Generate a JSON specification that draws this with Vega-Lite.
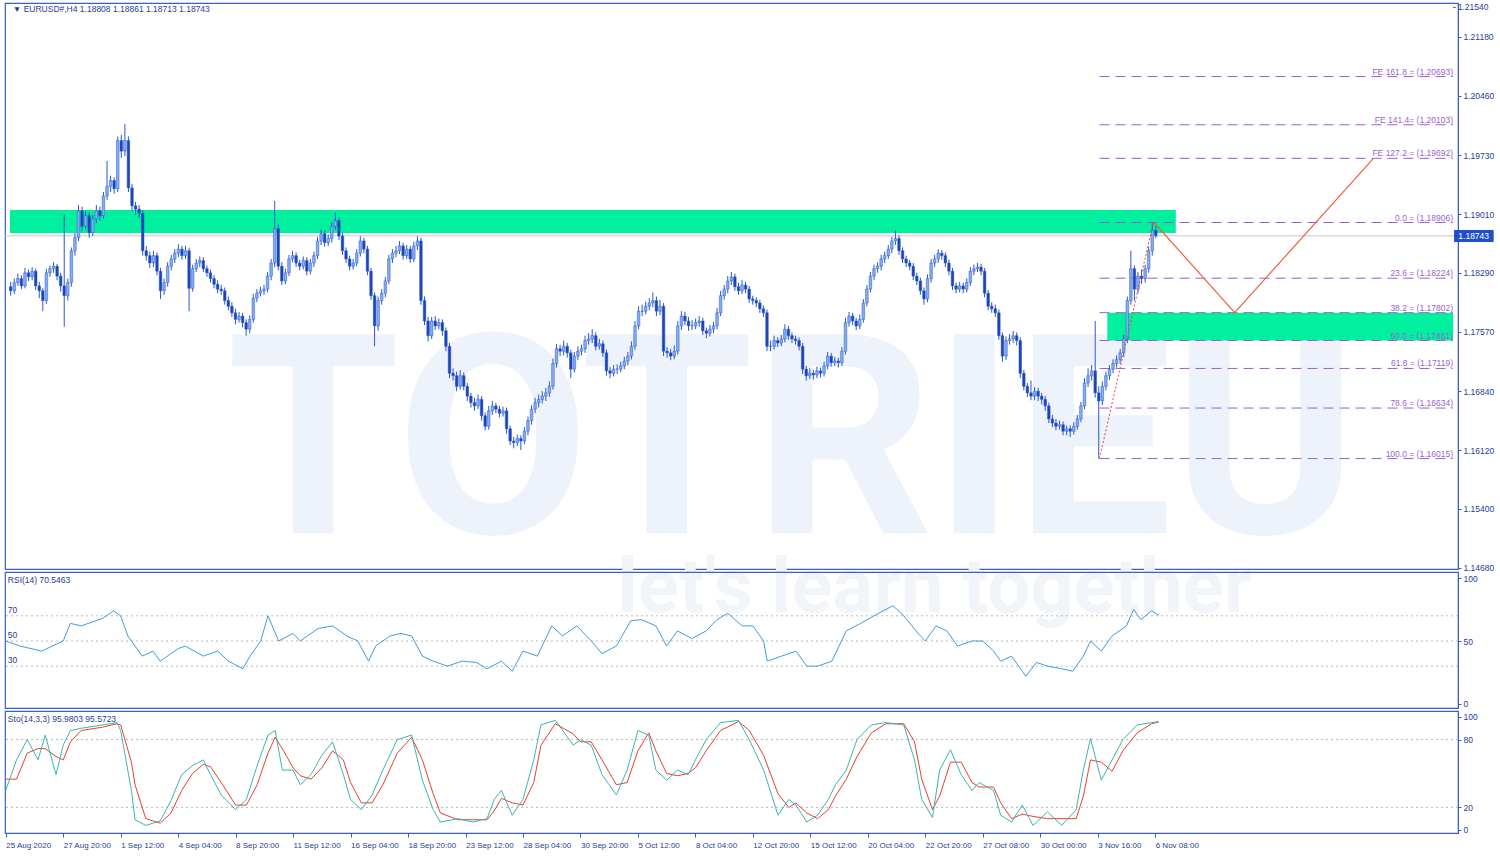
{
"$schema": "https://vega.github.io/schema/vega-lite/v6.json",
"background": "white",
"padding": {"left": 3, "top": 2, "right": 0, "bottom": 0},
"spacing": 3,
"bounds": "flush",
"config": {
  "view": {"stroke": "#3a60c8", "strokeWidth": 1.2},
  "axis": {"labelFont": "Liberation Sans", "labelFontSize": 8.5, "labelColor": "#1f3c99", "tickColor": "#3a60c8", "domainColor": "#3a60c8", "tickSize": 3, "grid": false, "title": null, "labelPadding": 2, "labelOverlap": false, "labelFlush": false},
  "text": {"font": "Liberation Sans"}
},
"datasets": {
"candles": [
{"i":0,"o":1.1812,"h":1.1818,"l":1.1801,"c":1.1807},{"i":1,"o":1.1807,"h":1.1822,"l":1.1803,"c":1.1817},{"i":2,"o":1.1817,"h":1.1828,"l":1.1813,"c":1.1822},{"i":3,"o":1.1822,"h":1.1826,"l":1.1809,"c":1.1813},{"i":4,"o":1.1813,"h":1.1835,"l":1.181,"c":1.1829},{"i":5,"o":1.1829,"h":1.1833,"l":1.1819,"c":1.1824},{"i":6,"o":1.1824,"h":1.1836,"l":1.182,"c":1.1831},{"i":7,"o":1.1831,"h":1.1834,"l":1.1808,"c":1.1813},{"i":8,"o":1.1813,"h":1.1818,"l":1.1798,"c":1.1807},{"i":9,"o":1.1807,"h":1.181,"l":1.1782,"c":1.1795},
{"i":10,"o":1.1795,"h":1.1834,"l":1.1791,"c":1.1829},{"i":11,"o":1.1829,"h":1.1838,"l":1.1824,"c":1.1834},{"i":12,"o":1.1834,"h":1.1842,"l":1.1829,"c":1.1837},{"i":13,"o":1.1837,"h":1.184,"l":1.182,"c":1.1825},{"i":14,"o":1.1825,"h":1.1829,"l":1.1806,"c":1.1813},{"i":15,"o":1.1813,"h":1.19,"l":1.1763,"c":1.1801},{"i":16,"o":1.1801,"h":1.1822,"l":1.1795,"c":1.1817},{"i":17,"o":1.1817,"h":1.186,"l":1.1812,"c":1.1856},{"i":18,"o":1.1856,"h":1.1878,"l":1.185,"c":1.1872},{"i":19,"o":1.1872,"h":1.1912,"l":1.1868,"c":1.1905},
{"i":20,"o":1.1905,"h":1.191,"l":1.188,"c":1.1886},{"i":21,"o":1.1886,"h":1.1905,"l":1.1882,"c":1.1899},{"i":22,"o":1.1899,"h":1.1903,"l":1.1872,"c":1.1878},{"i":23,"o":1.1878,"h":1.19,"l":1.1874,"c":1.1895},{"i":24,"o":1.1895,"h":1.1912,"l":1.189,"c":1.1905},{"i":25,"o":1.1905,"h":1.191,"l":1.1893,"c":1.1899},{"i":26,"o":1.1899,"h":1.1928,"l":1.1895,"c":1.1923},{"i":27,"o":1.1923,"h":1.1966,"l":1.1918,"c":1.1935},{"i":28,"o":1.1935,"h":1.1948,"l":1.1928,"c":1.1942},{"i":29,"o":1.1942,"h":1.1946,"l":1.1926,"c":1.1932},
{"i":30,"o":1.1932,"h":1.1996,"l":1.1928,"c":1.1991},{"i":31,"o":1.1991,"h":1.1998,"l":1.197,"c":1.1978},{"i":32,"o":1.1978,"h":1.2011,"l":1.1972,"c":1.1991},{"i":33,"o":1.1991,"h":1.1996,"l":1.1928,"c":1.1933},{"i":34,"o":1.1933,"h":1.1938,"l":1.1905,"c":1.1911},{"i":35,"o":1.1911,"h":1.1916,"l":1.19,"c":1.1907},{"i":36,"o":1.1907,"h":1.1912,"l":1.1896,"c":1.1902},{"i":37,"o":1.1902,"h":1.1906,"l":1.185,"c":1.1856},{"i":38,"o":1.1856,"h":1.1862,"l":1.1844,"c":1.185},{"i":39,"o":1.185,"h":1.1855,"l":1.1835,"c":1.1841},
{"i":40,"o":1.1841,"h":1.1856,"l":1.1836,"c":1.185},{"i":41,"o":1.185,"h":1.1854,"l":1.1826,"c":1.1831},{"i":42,"o":1.1831,"h":1.1835,"l":1.1797,"c":1.1807},{"i":43,"o":1.1807,"h":1.1822,"l":1.1802,"c":1.1817},{"i":44,"o":1.1817,"h":1.1842,"l":1.1812,"c":1.1837},{"i":45,"o":1.1837,"h":1.1851,"l":1.1832,"c":1.1846},{"i":46,"o":1.1846,"h":1.1858,"l":1.1841,"c":1.1853},{"i":47,"o":1.1853,"h":1.1864,"l":1.1848,"c":1.1858},{"i":48,"o":1.1858,"h":1.1862,"l":1.1845,"c":1.185},{"i":49,"o":1.185,"h":1.1862,"l":1.1846,"c":1.1856},
{"i":50,"o":1.1856,"h":1.186,"l":1.1782,"c":1.181},{"i":51,"o":1.181,"h":1.1839,"l":1.1806,"c":1.1834},{"i":52,"o":1.1834,"h":1.1846,"l":1.183,"c":1.1841},{"i":53,"o":1.1841,"h":1.1849,"l":1.1836,"c":1.1844},{"i":54,"o":1.1844,"h":1.1848,"l":1.183,"c":1.1834},{"i":55,"o":1.1834,"h":1.1838,"l":1.1824,"c":1.1829},{"i":56,"o":1.1829,"h":1.1833,"l":1.1817,"c":1.1822},{"i":57,"o":1.1822,"h":1.1826,"l":1.181,"c":1.1815},{"i":58,"o":1.1815,"h":1.182,"l":1.1804,"c":1.1809},{"i":59,"o":1.1809,"h":1.1814,"l":1.1802,"c":1.1807},
{"i":60,"o":1.1807,"h":1.1811,"l":1.179,"c":1.1795},{"i":61,"o":1.1795,"h":1.18,"l":1.1783,"c":1.1788},{"i":62,"o":1.1788,"h":1.1793,"l":1.1775,"c":1.178},{"i":63,"o":1.178,"h":1.1785,"l":1.1766,"c":1.1772},{"i":64,"o":1.1772,"h":1.1781,"l":1.1768,"c":1.1776},{"i":65,"o":1.1776,"h":1.178,"l":1.1762,"c":1.1768},{"i":66,"o":1.1768,"h":1.1772,"l":1.1752,"c":1.176},{"i":67,"o":1.176,"h":1.1777,"l":1.1755,"c":1.1772},{"i":68,"o":1.1772,"h":1.1803,"l":1.1768,"c":1.1798},{"i":69,"o":1.1798,"h":1.1809,"l":1.1793,"c":1.1804},
{"i":70,"o":1.1804,"h":1.1812,"l":1.18,"c":1.1807},{"i":71,"o":1.1807,"h":1.1814,"l":1.1802,"c":1.1809},{"i":72,"o":1.1809,"h":1.183,"l":1.1805,"c":1.1825},{"i":73,"o":1.1825,"h":1.1846,"l":1.182,"c":1.1841},{"i":74,"o":1.1841,"h":1.1917,"l":1.1836,"c":1.1883},{"i":75,"o":1.1883,"h":1.1888,"l":1.1832,"c":1.1837},{"i":76,"o":1.1837,"h":1.1842,"l":1.1814,"c":1.1819},{"i":77,"o":1.1819,"h":1.1834,"l":1.1815,"c":1.1829},{"i":78,"o":1.1829,"h":1.1851,"l":1.1825,"c":1.1846},{"i":79,"o":1.1846,"h":1.1856,"l":1.1842,"c":1.185},
{"i":80,"o":1.185,"h":1.1854,"l":1.1836,"c":1.1841},{"i":81,"o":1.1841,"h":1.1845,"l":1.1832,"c":1.1837},{"i":82,"o":1.1837,"h":1.1849,"l":1.1833,"c":1.1844},{"i":83,"o":1.1844,"h":1.1848,"l":1.1826,"c":1.1831},{"i":84,"o":1.1831,"h":1.1846,"l":1.1827,"c":1.1841},{"i":85,"o":1.1841,"h":1.1855,"l":1.1836,"c":1.185},{"i":86,"o":1.185,"h":1.1873,"l":1.1846,"c":1.1868},{"i":87,"o":1.1868,"h":1.1882,"l":1.1863,"c":1.1877},{"i":88,"o":1.1877,"h":1.1881,"l":1.1861,"c":1.1866},{"i":89,"o":1.1866,"h":1.1876,"l":1.1862,"c":1.1871},
{"i":90,"o":1.1871,"h":1.1891,"l":1.1866,"c":1.1886},{"i":91,"o":1.1886,"h":1.1903,"l":1.1882,"c":1.1893},{"i":92,"o":1.1893,"h":1.1897,"l":1.1869,"c":1.1874},{"i":93,"o":1.1874,"h":1.1878,"l":1.1851,"c":1.1856},{"i":94,"o":1.1856,"h":1.186,"l":1.1841,"c":1.1846},{"i":95,"o":1.1846,"h":1.185,"l":1.1832,"c":1.1837},{"i":96,"o":1.1837,"h":1.1846,"l":1.1833,"c":1.1841},{"i":97,"o":1.1841,"h":1.1858,"l":1.1837,"c":1.1853},{"i":98,"o":1.1853,"h":1.1874,"l":1.1849,"c":1.1868},{"i":99,"o":1.1868,"h":1.1872,"l":1.1853,"c":1.1858},
{"i":100,"o":1.1858,"h":1.1862,"l":1.1826,"c":1.1831},{"i":101,"o":1.1831,"h":1.1835,"l":1.1796,"c":1.1801},{"i":102,"o":1.1801,"h":1.1805,"l":1.1739,"c":1.1764},{"i":103,"o":1.1764,"h":1.18,"l":1.1758,"c":1.1795},{"i":104,"o":1.1795,"h":1.1809,"l":1.179,"c":1.1804},{"i":105,"o":1.1804,"h":1.1824,"l":1.1799,"c":1.1819},{"i":106,"o":1.1819,"h":1.1851,"l":1.1815,"c":1.1846},{"i":107,"o":1.1846,"h":1.1858,"l":1.1841,"c":1.1853},{"i":108,"o":1.1853,"h":1.1862,"l":1.1848,"c":1.1856},{"i":109,"o":1.1856,"h":1.1868,"l":1.1852,"c":1.1862},
{"i":110,"o":1.1862,"h":1.1866,"l":1.1845,"c":1.185},{"i":111,"o":1.185,"h":1.1863,"l":1.1846,"c":1.1858},{"i":112,"o":1.1858,"h":1.1862,"l":1.1841,"c":1.1846},{"i":113,"o":1.1846,"h":1.1867,"l":1.1842,"c":1.1862},{"i":114,"o":1.1862,"h":1.1874,"l":1.1857,"c":1.1868},{"i":115,"o":1.1868,"h":1.1872,"l":1.179,"c":1.1795},{"i":116,"o":1.1795,"h":1.18,"l":1.1765,"c":1.177},{"i":117,"o":1.177,"h":1.1775,"l":1.1745,"c":1.1752},{"i":118,"o":1.1752,"h":1.1775,"l":1.1748,"c":1.177},{"i":119,"o":1.177,"h":1.1776,"l":1.1759,"c":1.1764},
{"i":120,"o":1.1764,"h":1.1773,"l":1.176,"c":1.1768},{"i":121,"o":1.1768,"h":1.1772,"l":1.1752,"c":1.1758},{"i":122,"o":1.1758,"h":1.1762,"l":1.1733,"c":1.1739},{"i":123,"o":1.1739,"h":1.1743,"l":1.17,"c":1.1706},{"i":124,"o":1.1706,"h":1.1712,"l":1.1697,"c":1.1703},{"i":125,"o":1.1703,"h":1.1708,"l":1.1684,"c":1.169},{"i":126,"o":1.169,"h":1.171,"l":1.1686,"c":1.1703},{"i":127,"o":1.1703,"h":1.1707,"l":1.1685,"c":1.169},{"i":128,"o":1.169,"h":1.1694,"l":1.1672,"c":1.1678},{"i":129,"o":1.1678,"h":1.1682,"l":1.1664,"c":1.167},
{"i":130,"o":1.167,"h":1.1676,"l":1.166,"c":1.1666},{"i":131,"o":1.1666,"h":1.168,"l":1.1662,"c":1.1674},{"i":132,"o":1.1674,"h":1.1678,"l":1.1648,"c":1.1654},{"i":133,"o":1.1654,"h":1.1658,"l":1.1636,"c":1.1641},{"i":134,"o":1.1641,"h":1.1666,"l":1.1637,"c":1.166},{"i":135,"o":1.166,"h":1.1672,"l":1.1655,"c":1.1666},{"i":136,"o":1.1666,"h":1.167,"l":1.1657,"c":1.1662},{"i":137,"o":1.1662,"h":1.1666,"l":1.1652,"c":1.1657},{"i":138,"o":1.1657,"h":1.1665,"l":1.1653,"c":1.166},{"i":139,"o":1.166,"h":1.1664,"l":1.1632,"c":1.1638},
{"i":140,"o":1.1638,"h":1.1642,"l":1.1618,"c":1.1623},{"i":141,"o":1.1623,"h":1.1628,"l":1.1614,"c":1.1621},{"i":142,"o":1.1621,"h":1.1631,"l":1.1617,"c":1.1626},{"i":143,"o":1.1626,"h":1.163,"l":1.1612,"c":1.1623},{"i":144,"o":1.1623,"h":1.164,"l":1.1619,"c":1.1635},{"i":145,"o":1.1635,"h":1.1653,"l":1.163,"c":1.1648},{"i":146,"o":1.1648,"h":1.1667,"l":1.1643,"c":1.1662},{"i":147,"o":1.1662,"h":1.1676,"l":1.1657,"c":1.167},{"i":148,"o":1.167,"h":1.168,"l":1.1664,"c":1.1674},{"i":149,"o":1.1674,"h":1.1684,"l":1.1669,"c":1.1678},
{"i":150,"o":1.1678,"h":1.1688,"l":1.1672,"c":1.1682},{"i":151,"o":1.1682,"h":1.1696,"l":1.1677,"c":1.169},{"i":152,"o":1.169,"h":1.1724,"l":1.1686,"c":1.1718},{"i":153,"o":1.1718,"h":1.1742,"l":1.1713,"c":1.1736},{"i":154,"o":1.1736,"h":1.1741,"l":1.1727,"c":1.1733},{"i":155,"o":1.1733,"h":1.1746,"l":1.1728,"c":1.1739},{"i":156,"o":1.1739,"h":1.1743,"l":1.1725,"c":1.1731},{"i":157,"o":1.1731,"h":1.1735,"l":1.17,"c":1.1711},{"i":158,"o":1.1711,"h":1.1732,"l":1.1707,"c":1.1727},{"i":159,"o":1.1727,"h":1.1739,"l":1.1722,"c":1.1733},
{"i":160,"o":1.1733,"h":1.1741,"l":1.1728,"c":1.1736},{"i":161,"o":1.1736,"h":1.1752,"l":1.1731,"c":1.1746},{"i":162,"o":1.1746,"h":1.1755,"l":1.1741,"c":1.1748},{"i":163,"o":1.1748,"h":1.176,"l":1.1743,"c":1.1752},{"i":164,"o":1.1752,"h":1.1756,"l":1.1734,"c":1.1739},{"i":165,"o":1.1739,"h":1.1748,"l":1.1735,"c":1.1742},{"i":166,"o":1.1742,"h":1.1746,"l":1.1726,"c":1.1731},{"i":167,"o":1.1731,"h":1.1735,"l":1.1703,"c":1.1709},{"i":168,"o":1.1709,"h":1.1714,"l":1.17,"c":1.1706},{"i":169,"o":1.1706,"h":1.1716,"l":1.1702,"c":1.1711},
{"i":170,"o":1.1711,"h":1.1717,"l":1.1705,"c":1.1711},{"i":171,"o":1.1711,"h":1.172,"l":1.1707,"c":1.1715},{"i":172,"o":1.1715,"h":1.1726,"l":1.1711,"c":1.1721},{"i":173,"o":1.1721,"h":1.1732,"l":1.1716,"c":1.1727},{"i":174,"o":1.1727,"h":1.1745,"l":1.1723,"c":1.1739},{"i":175,"o":1.1739,"h":1.177,"l":1.1735,"c":1.1764},{"i":176,"o":1.1764,"h":1.1788,"l":1.176,"c":1.1782},{"i":177,"o":1.1782,"h":1.179,"l":1.1776,"c":1.1782},{"i":178,"o":1.1782,"h":1.1794,"l":1.1778,"c":1.1788},{"i":179,"o":1.1788,"h":1.1798,"l":1.1783,"c":1.1792},
{"i":180,"o":1.1792,"h":1.1805,"l":1.1787,"c":1.1795},{"i":181,"o":1.1795,"h":1.18,"l":1.1776,"c":1.1782},{"i":182,"o":1.1782,"h":1.1796,"l":1.1777,"c":1.1788},{"i":183,"o":1.1788,"h":1.1792,"l":1.1727,"c":1.1733},{"i":184,"o":1.1733,"h":1.1738,"l":1.1725,"c":1.1731},{"i":185,"o":1.1731,"h":1.1736,"l":1.1722,"c":1.1727},{"i":186,"o":1.1727,"h":1.174,"l":1.1723,"c":1.1733},{"i":187,"o":1.1733,"h":1.177,"l":1.1729,"c":1.1764},{"i":188,"o":1.1764,"h":1.1782,"l":1.1759,"c":1.1776},{"i":189,"o":1.1776,"h":1.1781,"l":1.1765,"c":1.177},
{"i":190,"o":1.177,"h":1.1775,"l":1.1758,"c":1.1764},{"i":191,"o":1.1764,"h":1.1771,"l":1.1759,"c":1.1764},{"i":192,"o":1.1764,"h":1.1773,"l":1.176,"c":1.1768},{"i":193,"o":1.1768,"h":1.1776,"l":1.1763,"c":1.177},{"i":194,"o":1.177,"h":1.1774,"l":1.1753,"c":1.1758},{"i":195,"o":1.1758,"h":1.1762,"l":1.1749,"c":1.1755},{"i":196,"o":1.1755,"h":1.1765,"l":1.1751,"c":1.176},{"i":197,"o":1.176,"h":1.1769,"l":1.1755,"c":1.1764},{"i":198,"o":1.1764,"h":1.1786,"l":1.176,"c":1.178},{"i":199,"o":1.178,"h":1.1807,"l":1.1776,"c":1.1801},
{"i":200,"o":1.1801,"h":1.1814,"l":1.1796,"c":1.1809},{"i":201,"o":1.1809,"h":1.1825,"l":1.1804,"c":1.1819},{"i":202,"o":1.1819,"h":1.183,"l":1.1814,"c":1.1824},{"i":203,"o":1.1824,"h":1.1828,"l":1.1807,"c":1.1812},{"i":204,"o":1.1812,"h":1.1817,"l":1.1802,"c":1.1807},{"i":205,"o":1.1807,"h":1.182,"l":1.1803,"c":1.1814},{"i":206,"o":1.1814,"h":1.1818,"l":1.1804,"c":1.1809},{"i":207,"o":1.1809,"h":1.1813,"l":1.1792,"c":1.1797},{"i":208,"o":1.1797,"h":1.1801,"l":1.179,"c":1.1795},{"i":209,"o":1.1795,"h":1.1799,"l":1.1787,"c":1.1792},
{"i":210,"o":1.1792,"h":1.1796,"l":1.178,"c":1.1785},{"i":211,"o":1.1785,"h":1.1789,"l":1.1775,"c":1.178},{"i":212,"o":1.178,"h":1.1784,"l":1.1733,"c":1.1739},{"i":213,"o":1.1739,"h":1.1746,"l":1.1733,"c":1.1739},{"i":214,"o":1.1739,"h":1.1752,"l":1.1735,"c":1.1746},{"i":215,"o":1.1746,"h":1.175,"l":1.1738,"c":1.1743},{"i":216,"o":1.1743,"h":1.1753,"l":1.1739,"c":1.1748},{"i":217,"o":1.1748,"h":1.1766,"l":1.1744,"c":1.176},{"i":218,"o":1.176,"h":1.1764,"l":1.1747,"c":1.1752},{"i":219,"o":1.1752,"h":1.1756,"l":1.1743,"c":1.1748},
{"i":220,"o":1.1748,"h":1.1752,"l":1.1741,"c":1.1746},{"i":221,"o":1.1746,"h":1.175,"l":1.1734,"c":1.1739},{"i":222,"o":1.1739,"h":1.1743,"l":1.1705,"c":1.1711},{"i":223,"o":1.1711,"h":1.1715,"l":1.1697,"c":1.1703},{"i":224,"o":1.1703,"h":1.1712,"l":1.1699,"c":1.1706},{"i":225,"o":1.1706,"h":1.171,"l":1.1698,"c":1.1704},{"i":226,"o":1.1704,"h":1.1714,"l":1.17,"c":1.1709},{"i":227,"o":1.1709,"h":1.1713,"l":1.1701,"c":1.1706},{"i":228,"o":1.1706,"h":1.172,"l":1.1702,"c":1.1715},{"i":229,"o":1.1715,"h":1.1732,"l":1.1711,"c":1.1727},
{"i":230,"o":1.1727,"h":1.1731,"l":1.1714,"c":1.1719},{"i":231,"o":1.1719,"h":1.1726,"l":1.1715,"c":1.1721},{"i":232,"o":1.1721,"h":1.1725,"l":1.1713,"c":1.1719},{"i":233,"o":1.1719,"h":1.1738,"l":1.1715,"c":1.1733},{"i":234,"o":1.1733,"h":1.1774,"l":1.1729,"c":1.1768},{"i":235,"o":1.1768,"h":1.1781,"l":1.1763,"c":1.1776},{"i":236,"o":1.1776,"h":1.178,"l":1.1765,"c":1.177},{"i":237,"o":1.177,"h":1.1774,"l":1.1759,"c":1.1764},{"i":238,"o":1.1764,"h":1.1778,"l":1.176,"c":1.1772},{"i":239,"o":1.1772,"h":1.1797,"l":1.1768,"c":1.1792},
{"i":240,"o":1.1792,"h":1.1814,"l":1.1788,"c":1.1809},{"i":241,"o":1.1809,"h":1.183,"l":1.1805,"c":1.1825},{"i":242,"o":1.1825,"h":1.1839,"l":1.182,"c":1.1834},{"i":243,"o":1.1834,"h":1.1842,"l":1.1829,"c":1.1837},{"i":244,"o":1.1837,"h":1.1851,"l":1.1832,"c":1.1846},{"i":245,"o":1.1846,"h":1.1855,"l":1.1841,"c":1.185},{"i":246,"o":1.185,"h":1.1863,"l":1.1846,"c":1.1858},{"i":247,"o":1.1858,"h":1.1873,"l":1.1853,"c":1.1868},{"i":248,"o":1.1868,"h":1.1881,"l":1.1863,"c":1.1871},{"i":249,"o":1.1871,"h":1.1875,"l":1.1851,"c":1.1856},
{"i":250,"o":1.1856,"h":1.186,"l":1.1841,"c":1.1846},{"i":251,"o":1.1846,"h":1.185,"l":1.1836,"c":1.1841},{"i":252,"o":1.1841,"h":1.1845,"l":1.1832,"c":1.1837},{"i":253,"o":1.1837,"h":1.1841,"l":1.182,"c":1.1825},{"i":254,"o":1.1825,"h":1.1829,"l":1.1814,"c":1.1819},{"i":255,"o":1.1819,"h":1.1823,"l":1.1802,"c":1.1807},{"i":256,"o":1.1807,"h":1.1811,"l":1.179,"c":1.1797},{"i":257,"o":1.1797,"h":1.1827,"l":1.1793,"c":1.1822},{"i":258,"o":1.1822,"h":1.1846,"l":1.1817,"c":1.1841},{"i":259,"o":1.1841,"h":1.1851,"l":1.1836,"c":1.1846},
{"i":260,"o":1.1846,"h":1.1858,"l":1.1841,"c":1.1853},{"i":261,"o":1.1853,"h":1.1857,"l":1.1845,"c":1.185},{"i":262,"o":1.185,"h":1.1854,"l":1.1836,"c":1.1841},{"i":263,"o":1.1841,"h":1.1845,"l":1.1826,"c":1.1831},{"i":264,"o":1.1831,"h":1.1835,"l":1.1808,"c":1.1813},{"i":265,"o":1.1813,"h":1.1817,"l":1.1804,"c":1.1809},{"i":266,"o":1.1809,"h":1.1818,"l":1.1805,"c":1.1813},{"i":267,"o":1.1813,"h":1.1817,"l":1.1804,"c":1.1809},{"i":268,"o":1.1809,"h":1.1822,"l":1.1805,"c":1.1817},{"i":269,"o":1.1817,"h":1.1836,"l":1.1813,"c":1.1831},
{"i":270,"o":1.1831,"h":1.1839,"l":1.1826,"c":1.1834},{"i":271,"o":1.1834,"h":1.1841,"l":1.183,"c":1.1836},{"i":272,"o":1.1836,"h":1.184,"l":1.1826,"c":1.1831},{"i":273,"o":1.1831,"h":1.1835,"l":1.1799,"c":1.1804},{"i":274,"o":1.1804,"h":1.1808,"l":1.1783,"c":1.1788},{"i":275,"o":1.1788,"h":1.1793,"l":1.178,"c":1.1785},{"i":276,"o":1.1785,"h":1.179,"l":1.1775,"c":1.178},{"i":277,"o":1.178,"h":1.1784,"l":1.1747,"c":1.1752},{"i":278,"o":1.1752,"h":1.1756,"l":1.172,"c":1.1727},{"i":279,"o":1.1727,"h":1.1751,"l":1.1722,"c":1.1746},
{"i":280,"o":1.1746,"h":1.1754,"l":1.1741,"c":1.1748},{"i":281,"o":1.1748,"h":1.1758,"l":1.1743,"c":1.1752},{"i":282,"o":1.1752,"h":1.1756,"l":1.174,"c":1.1746},{"i":283,"o":1.1746,"h":1.175,"l":1.17,"c":1.1706},{"i":284,"o":1.1706,"h":1.171,"l":1.1685,"c":1.169},{"i":285,"o":1.169,"h":1.1694,"l":1.1677,"c":1.1682},{"i":286,"o":1.1682,"h":1.1697,"l":1.1673,"c":1.1678},{"i":287,"o":1.1678,"h":1.1689,"l":1.1673,"c":1.1684},{"i":288,"o":1.1684,"h":1.1688,"l":1.1672,"c":1.1678},{"i":289,"o":1.1678,"h":1.1682,"l":1.1668,"c":1.1674},
{"i":290,"o":1.1674,"h":1.1678,"l":1.166,"c":1.1666},{"i":291,"o":1.1666,"h":1.167,"l":1.1645,"c":1.165},{"i":292,"o":1.165,"h":1.1655,"l":1.164,"c":1.1645},{"i":293,"o":1.1645,"h":1.165,"l":1.1636,"c":1.1641},{"i":294,"o":1.1641,"h":1.1648,"l":1.1637,"c":1.1643},{"i":295,"o":1.1643,"h":1.1647,"l":1.163,"c":1.1635},{"i":296,"o":1.1635,"h":1.1642,"l":1.163,"c":1.1638},{"i":297,"o":1.1638,"h":1.1642,"l":1.1628,"c":1.1635},{"i":298,"o":1.1635,"h":1.1646,"l":1.1631,"c":1.1641},{"i":299,"o":1.1641,"h":1.1655,"l":1.1637,"c":1.165},
{"i":300,"o":1.165,"h":1.1671,"l":1.1646,"c":1.1666},{"i":301,"o":1.1666,"h":1.17,"l":1.1662,"c":1.1694},{"i":302,"o":1.1694,"h":1.1712,"l":1.1689,"c":1.1703},{"i":303,"o":1.1703,"h":1.1716,"l":1.1697,"c":1.1709},{"i":304,"o":1.1709,"h":1.177,"l":1.1676,"c":1.1682},{"i":305,"o":1.1682,"h":1.169,"l":1.16015,"c":1.1672},{"i":306,"o":1.1672,"h":1.1696,"l":1.1667,"c":1.169},{"i":307,"o":1.169,"h":1.1708,"l":1.1685,"c":1.1703},{"i":308,"o":1.1703,"h":1.1716,"l":1.1698,"c":1.1711},{"i":309,"o":1.1711,"h":1.1723,"l":1.1706,"c":1.1718},
{"i":310,"o":1.1718,"h":1.1728,"l":1.1713,"c":1.1723},{"i":311,"o":1.1723,"h":1.1736,"l":1.1718,"c":1.1731},{"i":312,"o":1.1731,"h":1.1753,"l":1.1726,"c":1.1748},{"i":313,"o":1.1748,"h":1.18,"l":1.1743,"c":1.1795},{"i":314,"o":1.1795,"h":1.1856,"l":1.179,"c":1.1834},{"i":315,"o":1.1834,"h":1.1838,"l":1.1795,"c":1.1809},{"i":316,"o":1.1809,"h":1.183,"l":1.1804,"c":1.1825},{"i":317,"o":1.1825,"h":1.1833,"l":1.1815,"c":1.1822},{"i":318,"o":1.1822,"h":1.1839,"l":1.1817,"c":1.1834},{"i":319,"o":1.1834,"h":1.1861,"l":1.1829,"c":1.1856},
{"i":320,"o":1.1856,"h":1.18906,"l":1.185,"c":1.1881},{"i":321,"o":1.18808,"h":1.18861,"l":1.18713,"c":1.18743}
],
"rsi": [
{"i":0,"v":50},{"i":4,"v":46},{"i":10,"v":42},{"i":16,"v":50},{"i":18,"v":64},{"i":21,"v":62},{"i":27,"v":68},{"i":30,"v":74},{"i":32,"v":70},{"i":34,"v":54},{"i":38,"v":38},{"i":41,"v":42},{"i":43,"v":34},{"i":48,"v":44},{"i":50,"v":46},{"i":55,"v":38},{"i":59,"v":42},{"i":62,"v":34},{"i":66,"v":28},{"i":68,"v":38},{"i":71,"v":50},{"i":73,"v":70},{"i":76,"v":50},{"i":80,"v":56},{"i":82,"v":50},{"i":87,"v":60},{"i":91,"v":62},{"i":95,"v":54},{"i":98,"v":50},{"i":101,"v":34},{"i":103,"v":46},{"i":107,"v":54},{"i":110,"v":56},{"i":113,"v":54},{"i":116,"v":38},{"i":119,"v":34},{"i":123,"v":30},{"i":127,"v":34},{"i":131,"v":33},{"i":134,"v":28},{"i":138,"v":34},{"i":141,"v":26},{"i":144,"v":42},{"i":148,"v":38},{"i":152,"v":62},{"i":155,"v":54},{"i":159,"v":62},{"i":163,"v":50},{"i":166,"v":40},{"i":170,"v":46},{"i":174,"v":66},{"i":177,"v":67},{"i":181,"v":62},{"i":184,"v":46},{"i":187,"v":58},{"i":191,"v":52},{"i":195,"v":58},{"i":198,"v":67},{"i":201,"v":72},{"i":205,"v":62},{"i":208,"v":62},{"i":211,"v":50},{"i":212,"v":34},{"i":216,"v":38},{"i":220,"v":42},{"i":223,"v":30},{"i":226,"v":30},{"i":230,"v":34},{"i":234,"v":58},{"i":238,"v":64},{"i":243,"v":72},{"i":247,"v":78},{"i":250,"v":70},{"i":254,"v":56},{"i":256,"v":50},{"i":259,"v":62},{"i":262,"v":58},{"i":265,"v":46},{"i":269,"v":50},{"i":272,"v":50},{"i":275,"v":42},{"i":277,"v":34},{"i":280,"v":38},{"i":284,"v":22},{"i":287,"v":33},{"i":290,"v":30},{"i":294,"v":28},{"i":297,"v":26},{"i":300,"v":38},{"i":302,"v":50},{"i":305,"v":42},{"i":308,"v":54},{"i":312,"v":62},{"i":314,"v":75},{"i":316,"v":67},{"i":319,"v":74},{"i":321,"v":70.5}
],
"sto": [
{"i":0,"k":35,"d":45},{"i":3,"k":62,"d":45},{"i":6,"k":80,"d":68},{"i":9,"k":62,"d":72},{"i":11,"k":84,"d":72},{"i":14,"k":49,"d":65},{"i":16,"k":75,"d":62},{"i":18,"k":88,"d":78},{"i":21,"k":90,"d":88},{"i":27,"k":93,"d":91},{"i":31,"k":95,"d":94},{"i":32,"k":88,"d":93},{"i":35,"k":35,"d":60},{"i":36,"k":9,"d":40},{"i":39,"k":4,"d":10},{"i":43,"k":8,"d":6},{"i":46,"k":26,"d":15},{"i":49,"k":49,"d":35},{"i":52,"k":57,"d":50},{"i":55,"k":62,"d":58},{"i":57,"k":49,"d":56},{"i":60,"k":31,"d":42},{"i":64,"k":18,"d":22},{"i":67,"k":27,"d":22},{"i":70,"k":57,"d":40},{"i":73,"k":84,"d":68},{"i":75,"k":88,"d":82},{"i":77,"k":53,"d":72},{"i":80,"k":53,"d":55},{"i":82,"k":40,"d":48},{"i":85,"k":49,"d":45},{"i":88,"k":66,"d":55},{"i":91,"k":78,"d":70},{"i":94,"k":49,"d":62},{"i":96,"k":27,"d":42},{"i":99,"k":18,"d":24},{"i":102,"k":31,"d":24},{"i":105,"k":53,"d":40},{"i":109,"k":80,"d":68},{"i":113,"k":84,"d":82},{"i":116,"k":44,"d":62},{"i":119,"k":18,"d":32},{"i":121,"k":7,"d":15},{"i":126,"k":10,"d":9},{"i":130,"k":7,"d":9},{"i":134,"k":10,"d":9},{"i":136,"k":27,"d":17},{"i":138,"k":35,"d":28},{"i":141,"k":13,"d":24},{"i":144,"k":27,"d":22},{"i":147,"k":62,"d":42},{"i":149,"k":93,"d":75},{"i":153,"k":97,"d":94},{"i":158,"k":75,"d":85},{"i":160,"k":80,"d":78},{"i":163,"k":75,"d":78},{"i":166,"k":49,"d":62},{"i":170,"k":31,"d":40},{"i":173,"k":53,"d":42},{"i":176,"k":88,"d":70},{"i":179,"k":84,"d":86},{"i":181,"k":53,"d":70},{"i":184,"k":44,"d":50},{"i":187,"k":53,"d":48},{"i":190,"k":49,"d":50},{"i":192,"k":62,"d":55},{"i":195,"k":80,"d":70},{"i":199,"k":95,"d":88},{"i":204,"k":97,"d":96},{"i":207,"k":80,"d":88},{"i":211,"k":53,"d":66},{"i":215,"k":13,"d":32},{"i":218,"k":27,"d":20},{"i":220,"k":22,"d":24},{"i":223,"k":7,"d":15},{"i":226,"k":13,"d":10},{"i":229,"k":27,"d":18},{"i":231,"k":40,"d":30},{"i":234,"k":53,"d":45},{"i":237,"k":80,"d":65},{"i":241,"k":93,"d":86},{"i":245,"k":95,"d":94},{"i":250,"k":93,"d":94},{"i":253,"k":62,"d":78},{"i":255,"k":27,"d":45},{"i":258,"k":11,"d":18},{"i":260,"k":53,"d":30},{"i":263,"k":71,"d":60},{"i":266,"k":49,"d":60},{"i":269,"k":35,"d":42},{"i":271,"k":42,"d":38},{"i":275,"k":35,"d":38},{"i":277,"k":13,"d":24},{"i":280,"k":7,"d":10},{"i":283,"k":22,"d":14},{"i":286,"k":4,"d":12},{"i":290,"k":16,"d":10},{"i":294,"k":4,"d":10},{"i":298,"k":18,"d":10},{"i":300,"k":53,"d":30},{"i":302,"k":81,"d":62},{"i":305,"k":44,"d":60},{"i":308,"k":62,"d":52},{"i":311,"k":80,"d":70},{"i":315,"k":93,"d":86},{"i":319,"k":95,"d":94},{"i":321,"k":96,"d":95.6}
],
"zones": [{"x1":-0.2,"x2":326.6,"y1":1.18777,"y2":1.19059},{"x1":307.4,"x2":404.3,"y1":1.17461,"y2":1.17802}],
"fib": [
{"lab":"FE 161.8 = (1.20693)","p":1.20693,"x1":305.2,"x2":404.3},
{"lab":"FE 141.4= (1.20103)","p":1.20103,"x1":305.2,"x2":404.3},
{"lab":"FE 127.2 = (1.19692)","p":1.19692,"x1":305.2,"x2":404.3},
{"lab":"0.0 = (1.18906)","p":1.18906,"x1":305.2,"x2":404.3},
{"lab":"23.6 = (1.18224)","p":1.18224,"x1":305.2,"x2":404.3},
{"lab":"38.2 = (1.17802)","p":1.17802,"x1":305.2,"x2":404.3},
{"lab":"50.0 = (1.17461)","p":1.17461,"x1":305.2,"x2":404.3},
{"lab":"61.8 = (1.17119)","p":1.17119,"x1":305.2,"x2":404.3},
{"lab":"78.6 = (1.16634)","p":1.16634,"x1":305.2,"x2":404.3},
{"lab":"100.0 = (1.16015)","p":1.16015,"x1":305.2,"x2":404.3}
],
"zig": [{"i":320.5,"p":1.18906,"n":1},{"i":343.1,"p":1.17802,"n":2},{"i":382.0,"p":1.19692,"n":3}],
"dot": [{"i":305.2,"p":1.16015,"n":1},{"i":320.3,"p":1.18906,"n":2}]
},
"vconcat": [
{
 "width": 1453, "height": 566,
 "layer": [
  {"data": {"values": [{"i":219,"p":1.1613,"t":"TOTRIEU"}]},
   "mark": {"type": "text", "font": "Roboto, sans-serif", "fontWeight": "bold", "fontSize": 280, "color": "#eef3fb", "baseline": "middle", "align": "center"},
   "encoding": {"x": {"field": "i", "type": "quantitative", "scale": {"domain": [-0.2, 404.3], "nice": false, "zero": false}, "axis": null},
                "y": {"field": "p", "type": "quantitative", "scale": {"domain": [1.14663, 1.21594], "nice": false, "zero": false}, "axis": {"orient": "right", "values": [1.1468,1.1504,1.154,1.1576,1.1612,1.1648,1.1684,1.1721,1.1757,1.1793,1.1829,1.1865,1.1901,1.1937,1.1973,1.201,1.2046,1.2082,1.2118], "format": ".5f"}},
                "text": {"field": "t"}}},
  {"data": {"values": [{"i":259,"p":1.1442,"t":"let's learn together"}]},
   "mark": {"type": "text", "font": "Roboto, sans-serif", "fontWeight": "bold", "fontSize": 76, "color": "#f1f4f9", "baseline": "middle", "align": "center"},
   "encoding": {"x": {"field": "i", "type": "quantitative", "scale": {"domain": [-0.2, 404.3], "nice": false, "zero": false}},
                "y": {"field": "p", "type": "quantitative", "scale": {"domain": [1.14663, 1.21594], "nice": false, "zero": false}},
                "text": {"field": "t"}}},
  {"data": {"name": "zones"},
   "mark": {"type": "rect", "color": "#00f0a0"},
   "encoding": {"x": {"field": "x1", "type": "quantitative", "scale": {"domain": [-0.2, 404.3], "nice": false, "zero": false}}, "x2": {"field": "x2"},
                "y": {"field": "y1", "type": "quantitative", "scale": {"domain": [1.14663, 1.21594], "nice": false, "zero": false}}, "y2": {"field": "y2"}}},
  {"data": {"values": [{"p": 1.18743}]},
   "mark": {"type": "rule", "color": "#c8c8c8", "strokeWidth": 1},
   "encoding": {"y": {"field": "p", "type": "quantitative", "scale": {"domain": [1.14663, 1.21594], "nice": false, "zero": false}}}},
  {"data": {"name": "fib"},
   "mark": {"type": "rule", "color": "#9c5fd0", "strokeWidth": 1, "strokeDash": [10, 6]},
   "encoding": {"x": {"field": "x1", "type": "quantitative", "scale": {"domain": [-0.2, 404.3], "nice": false, "zero": false}}, "x2": {"field": "x2"},
                "y": {"field": "p", "type": "quantitative", "scale": {"domain": [1.14663, 1.21594], "nice": false, "zero": false}}}},
  {"data": {"name": "fib"},
   "mark": {"type": "text", "color": "#9c5fd0", "fontSize": 8.5, "align": "right", "baseline": "bottom", "dy": 0},
   "encoding": {"x": {"field": "x2", "type": "quantitative", "scale": {"domain": [-0.2, 404.3], "nice": false, "zero": false}},
                "y": {"field": "p", "type": "quantitative", "scale": {"domain": [1.14663, 1.21594], "nice": false, "zero": false}},
                "text": {"field": "lab"}}},
  {"data": {"name": "candles"},
   "mark": {"type": "rule", "color": "#2a58cf", "strokeWidth": 1},
   "encoding": {"x": {"field": "i", "type": "quantitative", "scale": {"domain": [-0.2, 404.3], "nice": false, "zero": false}},
                "y": {"field": "l", "type": "quantitative", "scale": {"domain": [1.14663, 1.21594], "nice": false, "zero": false}}, "y2": {"field": "h"}}},
  {"data": {"name": "candles"},
   "mark": {"type": "bar", "size": 2.6, "stroke": "#2a58cf", "strokeWidth": 0.5},
   "encoding": {"x": {"field": "i", "type": "quantitative", "scale": {"domain": [-0.2, 404.3], "nice": false, "zero": false}},
                "y": {"field": "o", "type": "quantitative", "scale": {"domain": [1.14663, 1.21594], "nice": false, "zero": false}}, "y2": {"field": "c"},
                "color": {"condition": {"test": "datum.c >= datum.o", "value": "#86acf0"}, "value": "#1c44b5"}}},
  {"data": {"name": "dot"},
   "mark": {"type": "line", "color": "#e04a30", "strokeWidth": 1, "strokeDash": [2, 2]},
   "encoding": {"x": {"field": "i", "type": "quantitative", "scale": {"domain": [-0.2, 404.3], "nice": false, "zero": false}},
                "y": {"field": "p", "type": "quantitative", "scale": {"domain": [1.14663, 1.21594], "nice": false, "zero": false}}, "order": {"field": "n"}}},
  {"data": {"name": "zig"},
   "mark": {"type": "line", "color": "#ec6040", "strokeWidth": 1.2},
   "encoding": {"x": {"field": "i", "type": "quantitative", "scale": {"domain": [-0.2, 404.3], "nice": false, "zero": false}},
                "y": {"field": "p", "type": "quantitative", "scale": {"domain": [1.14663, 1.21594], "nice": false, "zero": false}}, "order": {"field": "n"}}},
  {"data": {"values": [{"i":0.6,"p":1.2152,"t":"▼ EURUSD#,H4  1.18808 1.18861 1.18713 1.18743"}]},
   "mark": {"type": "text", "color": "#1f3c99", "fontSize": 8.5, "align": "left", "baseline": "middle"},
   "encoding": {"x": {"field": "i", "type": "quantitative", "scale": {"domain": [-0.2, 404.3], "nice": false, "zero": false}},
                "y": {"field": "p", "type": "quantitative", "scale": {"domain": [1.14663, 1.21594], "nice": false, "zero": false}}, "text": {"field": "t"}}},
  {"data": {"values": [{"x1":404.3,"x2":405.1,"p":1.2154}]},
   "mark": {"type": "rule", "color": "#3a60c8", "strokeWidth": 1},
   "encoding": {"x": {"field": "x1", "type": "quantitative", "scale": {"domain": [-0.2, 404.3], "nice": false, "zero": false}}, "x2": {"field": "x2"},
                "y": {"field": "p", "type": "quantitative", "scale": {"domain": [1.14663, 1.21594], "nice": false, "zero": false}}}},
  {"data": {"values": [{"i":405.6,"p":1.2154,"t":"1.21540"}]},
   "mark": {"type": "text", "color": "#1f3c99", "fontSize": 8.5, "align": "left", "baseline": "middle"},
   "encoding": {"x": {"field": "i", "type": "quantitative", "scale": {"domain": [-0.2, 404.3], "nice": false, "zero": false}},
                "y": {"field": "p", "type": "quantitative", "scale": {"domain": [1.14663, 1.21594], "nice": false, "zero": false}}, "text": {"field": "t"}}},
  {"data": {"values": [{"x1":404.6,"x2":415.7,"y1":1.18668,"y2":1.18815}]},
   "mark": {"type": "rect", "color": "#1f4fc8"},
   "encoding": {"x": {"field": "x1", "type": "quantitative", "scale": {"domain": [-0.2, 404.3], "nice": false, "zero": false}}, "x2": {"field": "x2"},
                "y": {"field": "y1", "type": "quantitative", "scale": {"domain": [1.14663, 1.21594], "nice": false, "zero": false}}, "y2": {"field": "y2"}}},
  {"data": {"values": [{"i":410.1,"p":1.18743,"t":"1.18743"}]},
   "mark": {"type": "text", "color": "white", "fontSize": 8.5, "align": "center", "baseline": "middle"},
   "encoding": {"x": {"field": "i", "type": "quantitative", "scale": {"domain": [-0.2, 404.3], "nice": false, "zero": false}},
                "y": {"field": "p", "type": "quantitative", "scale": {"domain": [1.14663, 1.21594], "nice": false, "zero": false}}, "text": {"field": "t"}}}
 ]
},
{
 "width": 1453, "height": 136,
 "layer": [
  {"data": {"values": [{"v":70},{"v":50},{"v":30}]},
   "mark": {"type": "rule", "color": "#b8b8b8", "strokeDash": [2, 3], "strokeWidth": 1},
   "encoding": {"y": {"field": "v", "type": "quantitative", "scale": {"domain": [-3.2, 104.8], "nice": false, "zero": false}, "axis": {"orient": "right", "values": [0, 30, 50, 70, 100]}}}},
  {"data": {"values": [{"i":0.6,"v":70,"t":"70"},{"i":0.6,"v":50,"t":"50"},{"i":0.6,"v":30,"t":"30"}]},
   "mark": {"type": "text", "color": "#1f3c99", "fontSize": 8.5, "align": "left", "baseline": "bottom", "dy": -1},
   "encoding": {"x": {"field": "i", "type": "quantitative", "scale": {"domain": [-0.2, 404.3], "nice": false, "zero": false}, "axis": null},
                "y": {"field": "v", "type": "quantitative", "scale": {"domain": [-3.2, 104.8], "nice": false, "zero": false}}, "text": {"field": "t"}}},
  {"data": {"values": [{"i":0.6,"v":98.3,"t":"RSI(14) 70.5463"}]},
   "mark": {"type": "text", "color": "#1f3c99", "fontSize": 8.5, "align": "left", "baseline": "middle"},
   "encoding": {"x": {"field": "i", "type": "quantitative", "scale": {"domain": [-0.2, 404.3], "nice": false, "zero": false}},
                "y": {"field": "v", "type": "quantitative", "scale": {"domain": [-3.2, 104.8], "nice": false, "zero": false}}, "text": {"field": "t"}}},
  {"data": {"name": "rsi"},
   "mark": {"type": "line", "color": "#3f9ddf", "strokeWidth": 1},
   "encoding": {"x": {"field": "i", "type": "quantitative", "scale": {"domain": [-0.2, 404.3], "nice": false, "zero": false}},
                "y": {"field": "v", "type": "quantitative", "scale": {"domain": [-3.2, 104.8], "nice": false, "zero": false}}}}
 ]
},
{
 "width": 1453, "height": 122,
 "layer": [
  {"data": {"values": [{"v":80},{"v":20}]},
   "mark": {"type": "rule", "color": "#b8b8b8", "strokeDash": [2, 3], "strokeWidth": 1},
   "encoding": {"y": {"field": "v", "type": "quantitative", "scale": {"domain": [-2.7, 105.3], "nice": false, "zero": false}, "axis": {"orient": "right", "values": [0, 20, 80, 100]}}}},
  {"data": {"values": [{"i":0.6,"v":98,"t":"Sto(14,3,3) 95.9803 95.5723"}]},
   "mark": {"type": "text", "color": "#1f3c99", "fontSize": 8.5, "align": "left", "baseline": "middle"},
   "encoding": {"x": {"field": "i", "type": "quantitative", "scale": {"domain": [-0.2, 404.3], "nice": false, "zero": false},
                      "axis": {"orient": "bottom", "values": [0,16,32,48,64,80,96,112,128,144,160,176,192,208,224,240,256,272,288,304,320], "labelAlign": "left", "labelPadding": 4, "tickSize": 4, "labelFontSize": 8, "labelFlush": false, "labelOverlap": false,
                               "labelExpr": "['25 Aug 2020','27 Aug 20:00','1 Sep 12:00','4 Sep 04:00','8 Sep 20:00','11 Sep 12:00','16 Sep 04:00','18 Sep 20:00','23 Sep 12:00','28 Sep 04:00','30 Sep 20:00','5 Oct 12:00','8 Oct 04:00','12 Oct 20:00','15 Oct 12:00','20 Oct 04:00','22 Oct 20:00','27 Oct 08:00','30 Oct 00:00','3 Nov 16:00','6 Nov 08:00'][round(datum.value/16)]"}},
                "y": {"field": "v", "type": "quantitative", "scale": {"domain": [-2.7, 105.3], "nice": false, "zero": false}}, "text": {"field": "t"}}},
  {"data": {"name": "sto"},
   "mark": {"type": "line", "color": "#e8402c", "strokeWidth": 1},
   "encoding": {"x": {"field": "i", "type": "quantitative", "scale": {"domain": [-0.2, 404.3], "nice": false, "zero": false}},
                "y": {"field": "d", "type": "quantitative", "scale": {"domain": [-2.7, 105.3], "nice": false, "zero": false}}}},
  {"data": {"name": "sto"},
   "mark": {"type": "line", "color": "#3cb4b4", "strokeWidth": 1},
   "encoding": {"x": {"field": "i", "type": "quantitative", "scale": {"domain": [-0.2, 404.3], "nice": false, "zero": false}},
                "y": {"field": "k", "type": "quantitative", "scale": {"domain": [-2.7, 105.3], "nice": false, "zero": false}}}}
 ]
}
]
}
